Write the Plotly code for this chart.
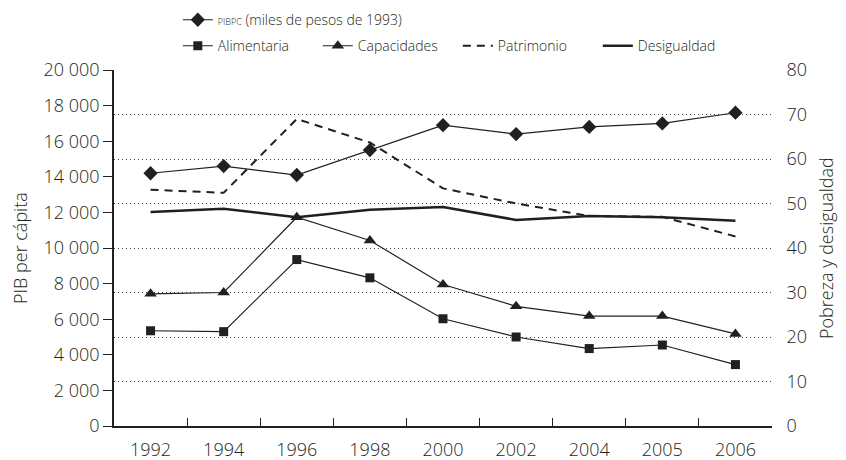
"""PIB per cápita, pobreza y desigualdad, 1992-2006."""

import plotly.graph_objects as go

years = ["1992", "1994", "1996", "1998", "2000", "2002", "2004", "2005", "2006"]
pibpc = [14200, 14600, 14100, 15500, 16900, 16400, 16800, 17000, 17600]
alimentaria = [21.4, 21.2, 37.4, 33.3, 24.1, 20.0, 17.4, 18.2, 13.8]
capacidades = [29.7, 30.0, 46.9, 41.7, 31.8, 26.9, 24.7, 24.7, 20.7]
patrimonio = [53.1, 52.4, 69.0, 63.7, 53.4, 50.0, 47.2, 47.0, 42.6]
desigualdad = [48.1, 48.8, 46.9, 48.6, 49.2, 46.3, 47.2, 46.9, 46.1]

INK = "#231f20"
FONT = "Open Sans"
xpos = list(range(len(years)))

fig = go.Figure()

# PIB per cápita on the left axis, alone in the first legend row
fig.add_trace(go.Scatter(
    x=xpos, y=pibpc, mode="lines+markers",
    name="<span style='font-size:9px'>PIBPC</span> (miles de pesos de 1993)",
    line=dict(color=INK, width=1.2),
    marker=dict(symbol="diamond", size=11, color=INK),
    legend="legend",
))

fig.add_trace(go.Scatter(
    x=xpos, y=alimentaria, mode="lines+markers", name="Alimentaria", yaxis="y2",
    line=dict(color=INK, width=1.2),
    marker=dict(symbol="square", size=9, color=INK),
    legend="legend2",
))
fig.add_trace(go.Scatter(
    x=xpos, y=capacidades, mode="lines+markers", name="Capacidades", yaxis="y2",
    line=dict(color=INK, width=1.2),
    marker=dict(symbol="triangle-up", size=11, color=INK),
    legend="legend2",
))
fig.add_trace(go.Scatter(
    x=xpos, y=patrimonio, mode="lines", name="Patrimonio", yaxis="y2",
    line=dict(color=INK, width=2, dash="8px,6px"),
    legend="legend2",
))
fig.add_trace(go.Scatter(
    x=xpos, y=desigualdad, mode="lines", name="Desigualdad", yaxis="y2",
    line=dict(color=INK, width=2.5),
    legend="legend2",
))

# the page body adds an 8px offset, so the figure is 8px smaller than the window
fig.update_layout(
    width=838, height=452,
    margin=dict(l=106, r=74, t=62, b=34, autoexpand=False),
    paper_bgcolor="white", plot_bgcolor="white",
    separators=". ",
    showlegend=True,
    font=dict(family=FONT, size=18, color=INK, weight=300),
    xaxis=dict(
        range=[-0.5, 8.5], tickvals=xpos, ticktext=years,
        ticks="outside", ticklen=7, tickcolor="rgba(0,0,0,0)",
        showgrid=False, zeroline=False, automargin=False,
        showline=True, linecolor=INK, linewidth=1.5,
        minor=dict(tickvals=[i + 0.5 for i in range(len(years) - 1)],
                   ticks="inside", ticklen=8, tickcolor=INK, showgrid=False),
    ),
    yaxis=dict(
        range=[0, 20000], dtick=2000, tickformat=",d",
        showgrid=False, zeroline=False, automargin=False,
        showline=True, linecolor=INK, linewidth=1.5,
        ticks="outside", ticklen=9, tickcolor=INK,
    ),
    yaxis2=dict(
        range=[0, 80], dtick=10, overlaying="y", side="right",
        showgrid=True, gridcolor="#444444", griddash="1px,3px", gridwidth=1,
        zeroline=False, showline=False, automargin=False,
        ticks="outside", ticklen=10, tickcolor="rgba(0,0,0,0)",
    ),
    legend=dict(
        orientation="h", x=0.097, xanchor="left", y=1.140, yanchor="middle",
        font=dict(size=14, color=INK), bgcolor="rgba(0,0,0,0)",
    ),
    legend2=dict(
        orientation="h", x=0.097, xanchor="left", y=1.067, yanchor="middle",
        font=dict(size=14, color=INK), bgcolor="rgba(0,0,0,0)",
        entrywidth=95, entrywidthmode="pixels",
    ),
    annotations=[
        dict(text="PIB per cápita", xref="paper", yref="paper",
             x=(20 - 114) / 658, y=0.5, textangle=-90, showarrow=False,
             xanchor="center", yanchor="middle"),
        dict(text="Pobreza y desigualdad", xref="paper", yref="paper",
             x=(826 - 114) / 658, y=0.5, textangle=-90, showarrow=False,
             xanchor="center", yanchor="middle"),
    ],
)

fig.write_html("out.html")
